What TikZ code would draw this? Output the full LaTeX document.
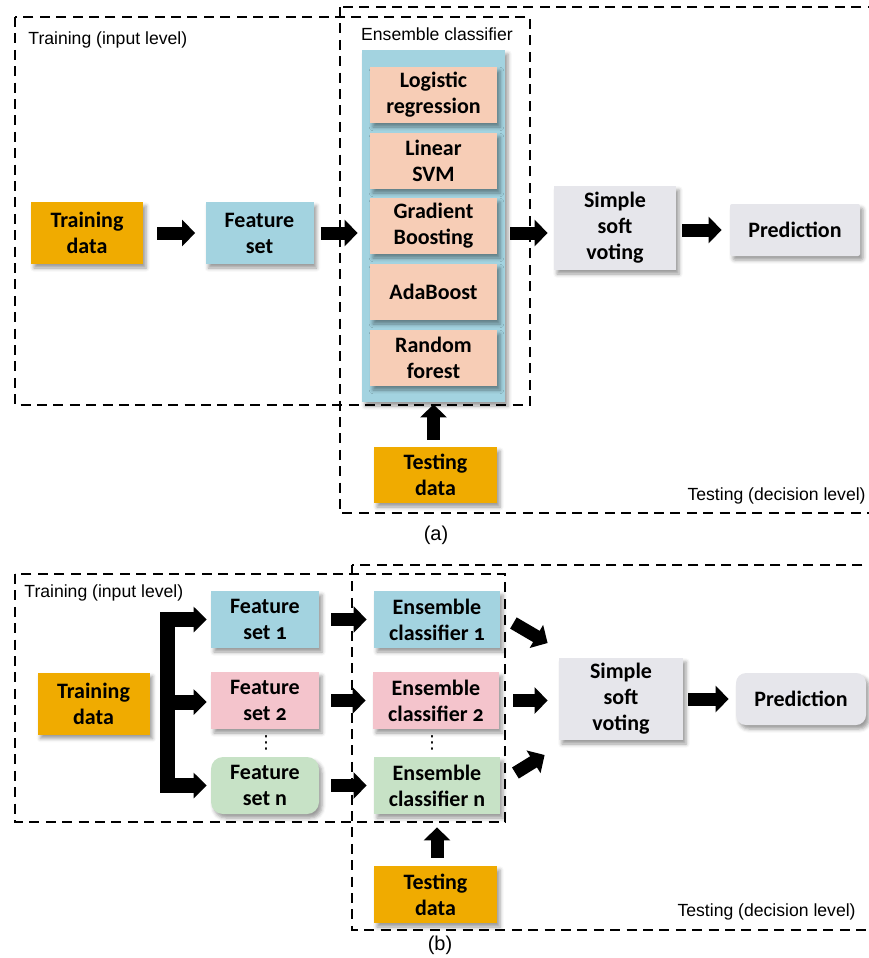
\documentclass[tikz,border=0pt]{standalone}
\usepackage{fontspec}
\setmainfont{Carlito}[Numbers=OldStyle]
\newfontfamily\arialfont{Liberation Sans}
\newfontfamily\dotsfont{DejaVu Sans}
\usepackage{tikz}
\usetikzlibrary{arrows.meta,%
                shadows.blur,positioning}

\definecolor{dataorange}{HTML}{F0AB00}
\definecolor{featblue}{HTML}{A3D3E0}
\definecolor{clfsalmon}{HTML}{F7CDB6}
\definecolor{setpink}{HTML}{F4C4CC}
\definecolor{setgreen}{HTML}{C7E2C6}
\definecolor{votegrey}{HTML}{E6E6EB}

\begin{document}
\begin{tikzpicture}[x=0.5pt,y=-0.5pt,
  box/.style={inner sep=0pt, align=center,
    font=\bfseries\fontsize{11}{13}\selectfont,
    blur shadow={shadow xshift=1.5pt, shadow yshift=-2pt, shadow opacity=40, shadow blur steps=4}},
  databox/.style={box, fill=dataorange, minimum width=56pt, minimum height=31pt},
  setbox/.style={box, minimum width=54pt, minimum height=28.5pt},
  clfbox/.style={box, fill=clfsalmon, minimum width=63.5pt, minimum height=28pt},
  votebox/.style={box, fill=votegrey, minimum width=61pt, minimum height=42pt},
  predbox/.style={box, fill=votegrey, minimum width=65pt, minimum height=26pt},
  fatarrow/.style={line width=6.5pt, -{Triangle[length=6.5pt 0 0, width=13pt 0 0]}},
  bracketarrow/.style={line width=7.5pt, line join=miter, -{Triangle[length=6.5pt 0 0, width=12.5pt 0 0]}},
  dashbox/.style={line width=1.25pt, dash pattern=on 5pt off 3.2pt},
  lbl/.style={font=\arialfont\fontsize{8.8}{10}\selectfont, inner sep=0pt},
  vdotsmark/.style={font=\dotsfont\fontsize{9}{9}\selectfont, inner sep=0pt}]
\useasboundingbox (0,0) rectangle (868,958);

%% (a)
\draw[dashbox] (15,17) rectangle (530,405);
\draw[dashbox] (340,7) rectangle (890,513);
\node[lbl, anchor=west] (trainlblA) at (28,40) {Training (input level)};
\node[lbl] (enslbl) at (437,34) {Ensemble classifier};
\node[lbl, anchor=east] (testlblA) at (866,496) {Testing (decision level)};
\node[lbl, font=\arialfont\fontsize{10}{12}\selectfont] (capA) at (436,535) {(a)};

\node[databox] (trainA) at (87,233) {Training\\data};
\node[setbox, fill=featblue, minimum height=31pt] (featA) at (259.5,233) {Feature\\set};
\node[box, fill=featblue, minimum width=71.5pt, minimum height=176pt] (ensA) at (433.5,226) {};
\foreach \yy/\nm/\txt in {95/lr/{Logistic\\regression}, 161/svm/{Linear\\SVM}, 226/gb/{Gradient\\Boosting},
                          292/ada/{AdaBoost}, 358/rf/{Random\\forest}}
  \node[clfbox] (\nm) at (433.5,\yy) {\txt};
\node[votebox] (voteA) at (615,228) {Simple\\soft\\voting};
\node[predbox, rounded corners=1pt] (predA) at (795,230) {Prediction};
\node[databox, minimum width=61.5pt, minimum height=28pt] (testA) at (435.5,475) {Testing\\data};

\draw[fatarrow, shorten <=7pt, shorten >=5pt] (trainA) -- (featA);
\draw[fatarrow, shorten <=3.5pt, shorten >=2pt] (featA) -- (ensA.west |- featA);
\draw[fatarrow, shorten <=2.5pt, shorten >=3pt] (ensA.east |- featA) -- (voteA.west |- featA);
\draw[fatarrow, shorten <=3pt, shorten >=4pt] (voteA.east |- predA) -- (predA);
\draw[fatarrow, shorten <=3.5pt, shorten >=1pt] (testA.north -| ensA) -- (ensA.south);

%% (b)
\draw[dashbox] (15,574) rectangle (505,822);
\draw[dashbox] (352,565) rectangle (890,930);
\node[lbl, anchor=west] (trainlblB) at (24,593) {Training (input level)};
\node[lbl, anchor=east] (testlblB) at (856,912) {Testing (decision level)};
\node[lbl, font=\arialfont\fontsize{10}{12}\selectfont] (capB) at (440,945) {(b)};

\node[databox] (trainB) at (93.5,703.5) {Training\\data};
\node[setbox, fill=featblue] (fs1) at (265,619.5) {Feature\\set 1};
\node[setbox, fill=setpink] (fs2) at (265,700.5) {Feature\\set 2};
\node[setbox, fill=setgreen, rounded corners=6pt] (fsn) at (265,785.5) {Feature\\set n};
\node[vdotsmark] (dotsfs) at (266,743) {⋮};
\node[setbox, fill=featblue, minimum width=63pt] (ec1) at (437,619.5) {Ensemble\\classifier 1};
\node[setbox, fill=setpink, minimum width=63pt] (ec2) at (436,700.5) {Ensemble\\classifier 2};
\node[setbox, fill=setgreen, minimum width=63pt] (ecn) at (437,785.5) {Ensemble\\classifier n};
\node[vdotsmark] (dotsec) at (432,743) {⋮};
\node[votebox, minimum width=62pt, minimum height=41pt] (voteB) at (621,699) {Simple\\soft\\voting};
\node[predbox, rounded corners=5pt] (predB) at (801,699) {Prediction};
\node[databox, minimum width=61.5pt, minimum height=28.5pt] (testB) at (435.5,894.5) {Testing\\data};

\coordinate (split) at (167,702);
\draw[bracketarrow, shorten >=2pt] (split) |- (fs1.west);
\draw[bracketarrow, shorten >=2pt] (split) |- (fsn.west);
\draw[bracketarrow, shorten >=2pt] (split) -- (split -| fs2.west);
\draw[fatarrow, shorten <=6pt, shorten >=3.5pt] (fs1) -- (ec1);
\draw[fatarrow, shorten <=6pt, shorten >=3.5pt] (fs2) -- (ec2);
\draw[fatarrow, shorten <=6pt, shorten >=3.5pt] (fsn) -- (ecn);
\draw[fatarrow] ([xshift=6.5pt,yshift=-1.75pt]ec1.east) -- ([xshift=-5.5pt,yshift=28pt]voteB.west);
\draw[fatarrow, shorten <=7pt, shorten >=5.5pt] (ec2.east) -- (ec2.east -| voteB.west);
\draw[fatarrow] ([xshift=7.5pt,yshift=6.25pt]ecn.east) -- ([xshift=-7pt,yshift=-28pt]voteB.west);
\draw[fatarrow, shorten <=2.5pt, shorten >=3.5pt] (voteB) -- (predB);
\draw[fatarrow, shorten <=4pt, shorten >=6.5pt] (testB.north -| ecn) -- (ecn.south);
\end{tikzpicture}
\end{document}
